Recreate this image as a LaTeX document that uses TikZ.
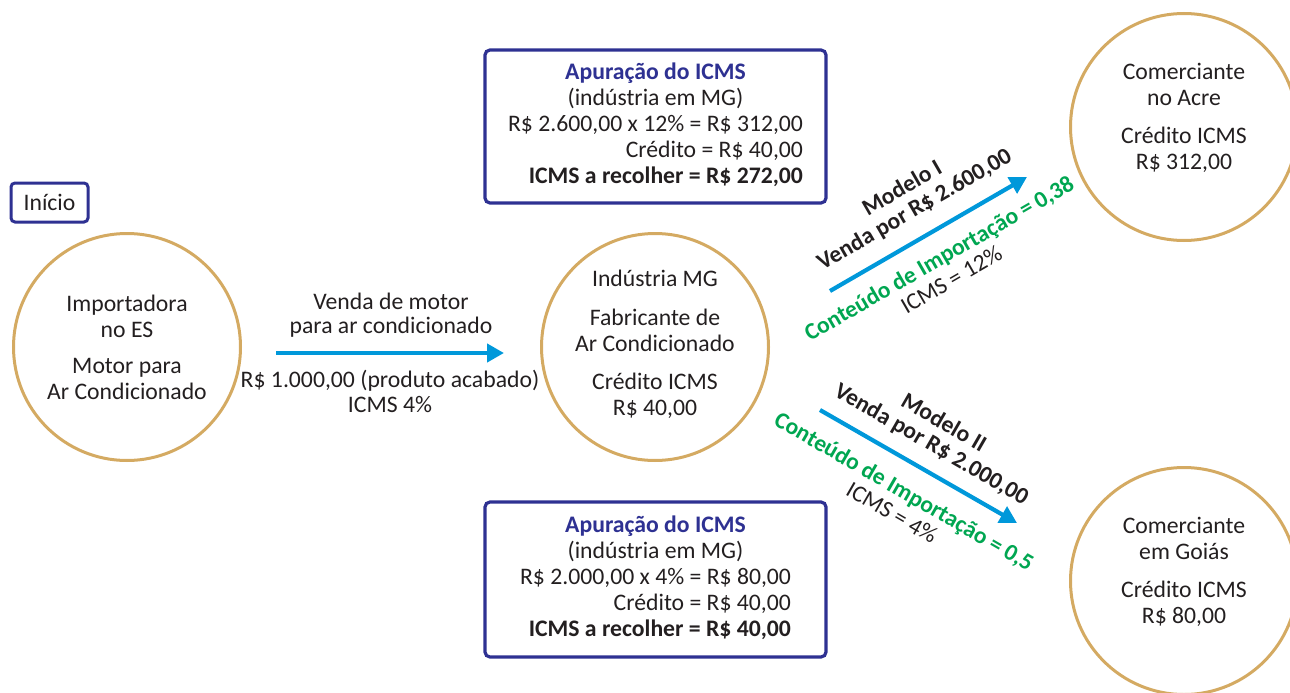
\documentclass[tikz,border=0pt]{standalone}
\usepackage{fontspec}
\setmainfont{Carlito}
\usetikzlibrary{arrows.meta,calc}
\definecolor{ink}{HTML}{231F20}
\definecolor{gold}{RGB}{212,170,98}
\definecolor{navy}{RGB}{46,49,146}
\definecolor{sky}{RGB}{0,152,218}
\definecolor{grn}{RGB}{0,166,81}
\begin{document}
\begin{tikzpicture}[x=1pt,y=-1pt,
  every node/.style={font=\fontsize{23.7}{26}\selectfont, text=ink, inner sep=0pt},
  ring/.style={circle, draw=gold, line width=3pt, minimum size=227pt},
  txt/.style={align=center},
  panel/.style={draw=navy, line width=3.2pt, rounded corners=5pt, minimum width=341pt, minimum height=153pt},
  arr/.style={draw=sky, line width=4.2pt, -{Triangle[length=17pt,width=18pt]}},
  lbl/.style={align=center, font=\fontsize{23.5}{24.5}\selectfont},
]
\useasboundingbox (0,0) rectangle (1290,693);

% start tag
\node[draw=navy, line width=3pt, rounded corners=4pt, minimum width=77pt, minimum height=39pt] (start) at (49.5,202.5) {Início};

% circles
\node[ring] (imp) at (127,347) {};
\node[txt] (impT) at (127,347) {Importadora\\no ES\\[10pt]Motor para\\Ar Condicionado};

\node[ring] (ind) at (655,347) {};
\node[txt] (indT) at (655,344) {Indústria MG\\[13pt]Fabricante de\\Ar Condicionado\\[12pt]Crédito ICMS\\R\$ 40,00};

\node[ring] (acre) at (1184,127) {};
\node[txt] (acreT) at (1184,118) {Comerciante\\no Acre\\[12pt]Crédito ICMS\\R\$ 312,00};

\node[ring] (goias) at (1184,581) {};
\node[txt] (goiasT) at (1184,572) {Comerciante\\em Goiás\\[12pt]Crédito ICMS\\R\$ 80,00};

% panels
\node[panel] (box1) at (655.5,126.5) {\begin{tabular}{@{}r@{}}
\multicolumn{1}{@{}c@{}}{\textcolor{navy}{\textbf{Apuração do ICMS}}}\\
\multicolumn{1}{@{}c@{}}{(indústria em MG)}\\
R\$ 2.600,00 x 12\% = R\$ 312,00\\
Crédito = R\$ 40,00\\
\textbf{ICMS a recolher = R\$ 272,00}
\end{tabular}};

\node[panel, minimum height=155pt] (box2) at (655.5,579.5) {\begin{tabular}{@{}r@{}}
\multicolumn{1}{@{}c@{}}{\textcolor{navy}{\textbf{Apuração do ICMS}}}\\
\multicolumn{1}{@{}c@{}}{(indústria em MG)}\\
R\$ 2.000,00 x 4\% = R\$ 80,00\\
Crédito = R\$ 40,00\\
\textbf{ICMS a recolher = R\$ 40,00}
\end{tabular}};

% horizontal arrow
\coordinate (hs) at (276,353);
\coordinate (he) at (504,353);
\draw[arr] (hs) -- (he);
\node[txt, font=\fontsize{23.7}{24.5}\selectfont] (h1) at (391,315) {Venda de motor\\para ar condicionado};
\node[txt, font=\fontsize{23.7}{25}\selectfont] (h2) at (390,391) {R\$ 1.000,00 (produto acabado)\\ICMS 4\%};

% diagonal arrows
\coordinate (a1s) at (830,291);
\coordinate (a1e) at (1027,177);
\draw[arr] (a1s) -- (a1e);
\coordinate (a2s) at (820,410);
\coordinate (a2e) at (1017,523);
\draw[arr] (a2s) -- (a2e);

\node[lbl, rotate=30] (m1a) at (908.6,199.6) {\textbf{Modelo I}\\\textbf{Venda por R\$ 2.600,00}};
\node[lbl, rotate=30] (m1b) at (945,268.6) {\textcolor{grn}{\textbf{Conteúdo de Importação = 0,38}}\\ICMS = 12\%};
\node[lbl, rotate=-30] (m2a) at (937.3,434) {\textbf{Modelo II}\\\textbf{Venda por R\$ 2.000,00}};
\node[lbl, rotate=-30] (m2b) at (898.3,501.6) {\textcolor{grn}{\textbf{Conteúdo de Importação = 0,5}}\\ICMS = 4\%};
\end{tikzpicture}
\end{document}
